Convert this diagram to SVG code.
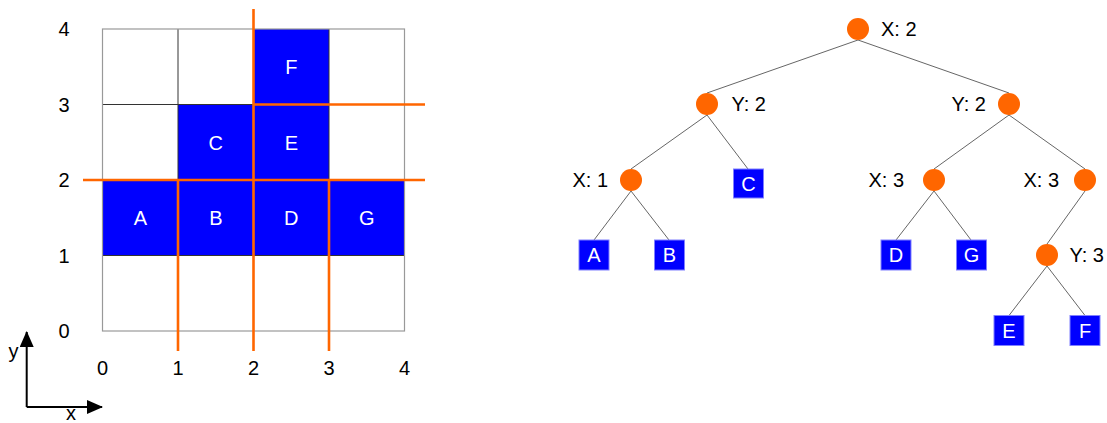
<svg xmlns="http://www.w3.org/2000/svg" width="1107" height="423" viewBox="0 0 1107 423">
  <style>
    text { font-family: "Liberation Sans", Arial, sans-serif; font-size: 20px; fill: #000; }
    .cell { fill: #0000ff; }
    .cell-label { fill: #fff; text-anchor: middle; }
    .tick { text-anchor: middle; }
    .grid { stroke: #333; stroke-width: 1; fill: none; }
    .border { stroke: #999; stroke-width: 1.2; fill: none; }
    .split { stroke: #ff6600; stroke-width: 2.6; fill: none; }
    .axis { stroke: #000; stroke-width: 2; fill: none; }
    .split-node { fill: #ff6600; }
    .leaf { fill: #0000ff; stroke: #8080ff; stroke-width: 1; }
    .leaf-label { fill: #fff; text-anchor: middle; }
    .edge { stroke: #666; stroke-width: 1; fill: none; }
    .end { text-anchor: end; }
  </style>
  <defs>
    <marker id="arrow" viewBox="0 0 16 14" refX="15" refY="7" markerWidth="16" markerHeight="14" markerUnits="userSpaceOnUse" orient="auto">
      <path d="M0,0 L16,7 L0,14 Z" fill="#000"/>
    </marker>
  </defs>

  <!-- 4x4 partition grid -->
  <g id="grid-plane">
    <rect class="cell" x="102.5" y="180" width="302" height="75.5"/>
    <rect class="cell" x="178" y="104.5" width="151" height="75.5"/>
    <rect class="cell" x="253.5" y="29" width="75.5" height="75.5"/>
    <path class="grid" d="M178,29V331 M253.5,29V331 M329,29V331 M102.5,104.5H404.5 M102.5,180H404.5 M102.5,255.5H404.5"/>
    <rect class="border" x="102.5" y="29" width="302" height="302"/>
    <text class="cell-label" x="140.3" y="225">A</text>
    <text class="cell-label" x="215.8" y="225">B</text>
    <text class="cell-label" x="291.3" y="225">D</text>
    <text class="cell-label" x="366.8" y="225">G</text>
    <text class="cell-label" x="215.8" y="149.5">C</text>
    <text class="cell-label" x="291.3" y="149.5">E</text>
    <text class="cell-label" x="291.3" y="74">F</text>
    <!-- splitting lines -->
    <path class="split" d="M253.5,9V351 M83,180H425 M253.5,104.5H425 M178,180V351 M329,180V351"/>
    <!-- tick labels -->
    <text class="tick" x="64" y="36">4</text>
    <text class="tick" x="64" y="111.5">3</text>
    <text class="tick" x="64" y="187">2</text>
    <text class="tick" x="64" y="262.5">1</text>
    <text class="tick" x="64" y="338">0</text>
    <text class="tick" x="102.5" y="375">0</text>
    <text class="tick" x="178" y="375">1</text>
    <text class="tick" x="253.5" y="375">2</text>
    <text class="tick" x="329" y="375">3</text>
    <text class="tick" x="404.5" y="375">4</text>
  </g>

  <!-- axis indicator -->
  <g id="axes">
    <path class="axis" d="M26.7,407V332" marker-end="url(#arrow)"/>
    <path class="axis" d="M26.7,407H102" marker-end="url(#arrow)"/>
    <text x="13.5" y="358" text-anchor="middle">y</text>
    <text x="71" y="420" text-anchor="middle">x</text>
  </g>

  <!-- tree connectors -->
  <g id="connectors">
    <path class="edge" d="M858,40L707,93 M858,40L1009,93"/>
    <path class="edge" d="M707,115L631,169 M707,115L748,169"/>
    <path class="edge" d="M1009,115L934,169 M1009,115L1085,169"/>
    <path class="edge" d="M631,191L594,240 M631,191L669,240"/>
    <path class="edge" d="M934,191L896,240 M934,191L971,240"/>
    <path class="edge" d="M1085,191L1047,244"/>
    <path class="edge" d="M1047,266L1009,315.5 M1047,266L1085,315.5"/>
  </g>

  <!-- split nodes -->
  <g id="node-root">
    <circle class="split-node" cx="858" cy="29" r="11"/>
    <text x="881" y="36">X: 2</text>
  </g>
  <g id="node-left-y">
    <circle class="split-node" cx="707" cy="104" r="11"/>
    <text x="731.5" y="111">Y: 2</text>
  </g>
  <g id="node-right-y">
    <circle class="split-node" cx="1009" cy="104" r="11"/>
    <text class="end" x="986" y="111">Y: 2</text>
  </g>
  <g id="node-x1">
    <circle class="split-node" cx="631" cy="180" r="11"/>
    <text class="end" x="608" y="187">X: 1</text>
  </g>
  <g id="node-x3-left">
    <circle class="split-node" cx="934" cy="180" r="11"/>
    <text class="end" x="904" y="187">X: 3</text>
  </g>
  <g id="node-x3-right">
    <circle class="split-node" cx="1085" cy="180" r="11"/>
    <text class="end" x="1059" y="187">X: 3</text>
  </g>
  <g id="node-y3">
    <circle class="split-node" cx="1047" cy="255" r="11"/>
    <text x="1069.5" y="262">Y: 3</text>
  </g>

  <!-- leaves -->
  <g id="leaf-c">
    <rect class="leaf" x="733.5" y="169" width="30" height="29"/>
    <text class="leaf-label" x="748.5" y="190.5">C</text>
  </g>
  <g id="leaf-a">
    <rect class="leaf" x="579" y="240" width="30" height="30"/>
    <text class="leaf-label" x="594" y="262">A</text>
  </g>
  <g id="leaf-b">
    <rect class="leaf" x="654.5" y="240" width="30" height="30"/>
    <text class="leaf-label" x="669.5" y="262">B</text>
  </g>
  <g id="leaf-d">
    <rect class="leaf" x="881" y="240" width="30" height="30"/>
    <text class="leaf-label" x="896" y="262">D</text>
  </g>
  <g id="leaf-g">
    <rect class="leaf" x="956.5" y="240" width="30" height="30"/>
    <text class="leaf-label" x="971.5" y="262">G</text>
  </g>
  <g id="leaf-e">
    <rect class="leaf" x="994" y="315.5" width="30" height="30"/>
    <text class="leaf-label" x="1009" y="337.5">E</text>
  </g>
  <g id="leaf-f">
    <rect class="leaf" x="1070" y="315.5" width="30" height="30"/>
    <text class="leaf-label" x="1085" y="337.5">F</text>
  </g>
</svg>
